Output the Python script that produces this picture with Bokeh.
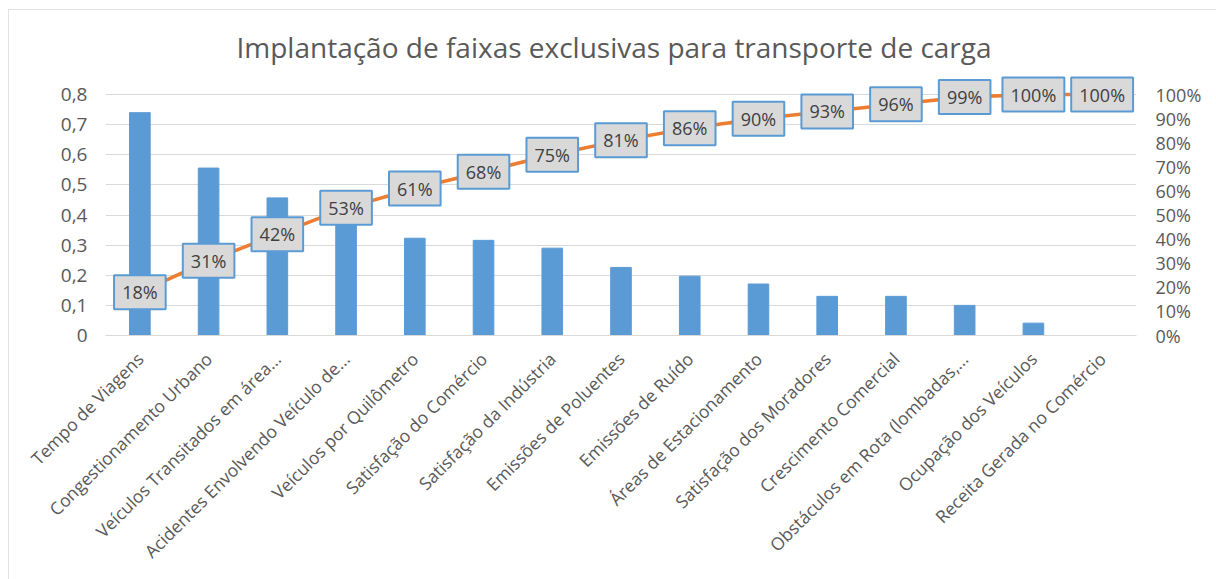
import math
from bokeh.plotting import figure
from bokeh.models import (ColumnDataSource, LinearAxis, Range1d, FixedTicker,
                          CustomJSTickFormatter, NumeralTickFormatter, LabelSet)
from bokeh.core.properties import value
from bokeh.embed import file_html
from bokeh.resources import INLINE

categories = [
    "Tempo de Viagens",
    "Congestionamento Urbano",
    "Veículos Transitados em área...",
    "Acidentes Envolvendo Veículo de...",
    "Veículos por Quilômetro",
    "Satisfação do Comércio",
    "Satisfação da Indústria",
    "Emissões de Poluentes",
    "Emissões de Ruído",
    "Áreas de Estacionamento",
    "Satisfação dos Moradores",
    "Crescimento Comercial",
    "Obstáculos em Rota (lombadas,...",
    "Ocupação dos Veículos",
    "Receita Gerada no Comércio",
]
values = [0.74, 0.556, 0.457, 0.40, 0.323, 0.316, 0.29, 0.226, 0.197,
          0.171, 0.130, 0.130, 0.100, 0.041, 0.0]
cumulative_pct = [18, 31, 42, 53, 61, 68, 75, 81, 86, 90, 93, 96, 99, 100, 100]
left_ticks = [0, 0.1, 0.2, 0.3, 0.4, 0.5, 0.6, 0.7, 0.8]
right_ticks = [0, 0.1, 0.2, 0.3, 0.4, 0.5, 0.6, 0.7, 0.8, 0.9, 1.0]
title_text = "Implantação de faixas exclusivas para transporte de carga"

FONT = "Open Sans"
GRAY = "#595959"
BLUE = "#5B9BD5"
ORANGE = "#ED7D31"

lab = [f"{c}%" for c in cumulative_pct]
src = ColumnDataSource(dict(
    cat=categories,
    val=values,
    cum=[c / 100 for c in cumulative_pct],
    lab=lab,
    bw=[16 + 15 + 10.3 * (len(s) - 1) for s in lab],
))

Y_TOP = 0.8667  # headroom above 0,8 so the top labels are not clipped
p = figure(x_range=categories, y_range=Range1d(0, Y_TOP),
           width=1208, height=570, output_backend="svg", toolbar_location=None,
           min_border_left=97, min_border_right=80, min_border_top=65,
           min_border_bottom=244)
p.styles = {"margin-left": "8px", "margin-top": "9px",
            "outline": "2px solid #d9d9d9", "outline-offset": "-2px"}
p.outline_line_color = None
p.background_fill_color = "white"
p.border_fill_color = "white"

p.extra_y_ranges = {"pct": Range1d(0, Y_TOP / 0.8)}

p.vbar(x="cat", top="val", width=0.3, source=src, fill_color=BLUE,
       line_color=BLUE)
p.line(x="cat", y="cum", source=src, y_range_name="pct", line_color=ORANGE,
       line_width=3.5)
p.rect(x="cat", y="cum", width="bw", height=34, width_units="screen",
       height_units="screen", source=src, y_range_name="pct",
       fill_color="#D9D9D9", line_color=BLUE, line_width=2)

labels = LabelSet(x="cat", y="cum", text="lab", source=src, y_range_name="pct",
                  text_align="center", text_baseline="middle",
                  text_font=value(FONT), text_font_size=value("18px"),
                  text_color="#404040")
p.add_layout(labels)

# left axis
yax = p.yaxis[0]
yax.ticker = FixedTicker(ticks=left_ticks)
yax.formatter = CustomJSTickFormatter(
    code="return tick == 0 ? '0' : tick.toFixed(1).replace('.', ',');")
yax.axis_line_color = None
yax.major_tick_line_color = None
yax.minor_tick_line_color = None
yax.major_tick_out = 0
yax.minor_tick_out = 0
yax.major_label_standoff = 18
yax.major_label_text_font = FONT
yax.major_label_text_font_size = "19px"
yax.major_label_text_color = GRAY

# right axis
rax = LinearAxis(y_range_name="pct", ticker=FixedTicker(ticks=right_ticks),
                 formatter=NumeralTickFormatter(format="0%"))
rax.axis_line_color = None
rax.major_tick_line_color = None
rax.minor_tick_line_color = None
rax.major_tick_out = 0
rax.minor_tick_out = 0
rax.major_label_standoff = 19
rax.major_label_text_font = FONT
rax.major_label_text_font_size = "18px"
rax.major_label_text_color = GRAY
p.add_layout(rax, "right")

# category axis
xax = p.xaxis[0]
xax.axis_line_color = "#D9D9D9"
xax.major_tick_line_color = None
xax.minor_tick_line_color = None
xax.major_tick_out = 0
xax.major_label_orientation = math.pi / 4
xax.major_label_standoff = 20
xax.major_label_text_font = FONT
xax.major_label_text_font_size = "17.5px"
xax.major_label_text_color = GRAY

p.xgrid.grid_line_color = None
p.ygrid.grid_line_color = "#D9D9D9"
p.ygrid.ticker = FixedTicker(ticks=left_ticks)

p.title.text = title_text
p.title.align = "left"
p.title.offset = 131
p.title.standoff = 18
p.title.text_font = FONT
p.title.text_font_size = "28px"
p.title.text_font_style = "normal"
p.title.text_color = GRAY

open("out.html", "w").write(file_html(p, INLINE))
